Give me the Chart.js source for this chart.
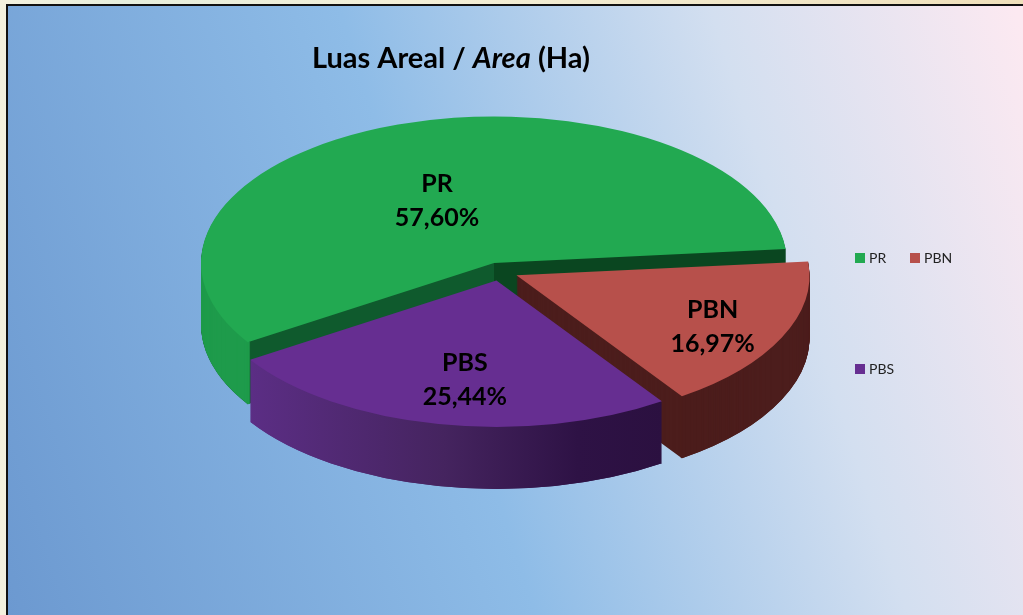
<!DOCTYPE html>
<html>
<head>
<meta charset="utf-8">
<title>Luas Areal</title>
<script src="https://cdn.jsdelivr.net/npm/chart.js@4"></script>
<style>
    html, body { margin: 0; height: 100%; overflow: hidden; }
    body { background: linear-gradient(90deg, #f4f1de 0%, #e6eedd 12%, #f3efd8 40%, #efe0bb 100%); }
    #panel {
        position: absolute; left: 6px; top: 4px; width: 1100px; height: 700px;
        border: 2px solid #111;
        background: linear-gradient(72deg, #6a97cf 0%, #8ebce7 42%, #d3dff0 70%, #fce9f1 93%);
    }
    #wrap { position: absolute; left: 0; top: 0; width: 1023px; height: 615px; }
</style>
</head>
<body>
<div id="panel"></div>
<div id="wrap"><canvas id="areaChart"></canvas></div>
<script>
const categories = ['PR', 'PBN', 'PBS'];
const shares = [57.60, 16.97, 25.44];

const topColors = ['#22A951', '#B7504B', '#662E91'];

// tilt and depth of the fake 3D pie
const tilt = 0.5;
const depth = 62;
const explode = 18.2;

// where the labels sit on each slice (degrees from east, fraction of radius)
const labelAngles = [245.3, 27.7, 99];
const labelRadii = [0.466, 0.756, 0.688];

// legend layout
const legendSpots = [[855, 253], [910, 253], [855, 364]];

function sliceCopy(arc, color, inner) {
    // copy of the arc element, moved out from the centre
    const mid = arc.startAngle + arc.circumference / 2;
    const copy = Object.create(arc);
    copy.x = arc.x + Math.cos(mid) * explode;
    copy.y = arc.y + Math.sin(mid) * explode;
    copy.innerRadius = inner === undefined ? 0 : inner;
    copy.options = {
        backgroundColor: color, borderColor: color, borderWidth: 0, borderAlign: 'center',
        borderRadius: 0, spacing: 0, offset: 0, circular: true,
        borderJoinStyle: 'round', borderDash: [], borderDashOffset: 0
    };
    return copy;
}

function hardStop(ctx, x, left, right) {
    const grad = ctx.createLinearGradient(0, 0, 1023, 0);
    const at = x / 1023;
    grad.addColorStop(0, left);
    grad.addColorStop(at, left);
    grad.addColorStop(at, right);
    grad.addColorStop(1, right);
    return grad;
}

function wallGradient(ctx, stops) {
    const grad = ctx.createLinearGradient(200, 0, 810, 0);
    stops.forEach(([at, c]) => grad.addColorStop(at, c));
    return grad;
}

function drawLayer(ctx, cy, d, slice) {
    ctx.save();
    ctx.translate(0, cy + d);
    ctx.scale(1, tilt);
    ctx.translate(0, -cy);
    slice.draw(ctx);
    ctx.restore();
}

const pie3d = {
    id: 'pie3d',
    beforeDatasetDraw(chart) {
        const ctx = chart.ctx;
        const arcs = chart.getDatasetMeta(0).data;
        const cy = arcs[0].y;

        const apexX = sliceCopy(arcs[0], '#000').x;
        const purpleWall = wallGradient(ctx, [[0.07, '#5C2E86'], [0.4, '#45245F'], [0.62, '#2E1245'], [0.76, '#2B1040']]);
        const cutFills = [
            hardStop(ctx, apexX, '#0F5A2D', '#0A4620'),
            '#4C1D1C',
            purpleWall
        ];
        const wallFills = ['#1E9B4B', '#4C1D1C', purpleWall];

        arcs.forEach((arc, i) => {
            const cut = sliceCopy(arc, cutFills[i]);
            const wall = sliceCopy(arc, wallFills[i], arc.outerRadius - 3);
            // only the front part of the rim is a visible wall
            if (arc.startAngle < Math.PI && arc.endAngle > Math.PI) {
                wall.endAngle = Math.PI + 0.05;
                wall.circumference = wall.endAngle - arc.startAngle;
            }
            for (let d = depth; d >= 1; d--) drawLayer(ctx, cy, d, cut);
            for (let d = depth; d >= 1; d--) drawLayer(ctx, cy, d, wall);
            drawLayer(ctx, cy, 0, sliceCopy(arc, topColors[i]));
        });
        return false;
    },
    afterDatasetsDraw(chart) {
        const ctx = chart.ctx;
        const arcs = chart.getDatasetMeta(0).data;
        const cy = arcs[0].y;

        // slice labels
        ctx.save();
        ctx.fillStyle = '#000';
        ctx.textAlign = 'center';
        ctx.textBaseline = 'middle';
        ctx.font = 'bold 25px Lato';
        arcs.forEach((arc, i) => {
            const s = sliceCopy(arc, '#000');
            const a = labelAngles[i] * Math.PI / 180;
            const r = labelRadii[i] * arc.outerRadius;
            const x = s.x + Math.cos(a) * r;
            const y = cy + (s.y - cy + Math.sin(a) * r) * tilt;
            ctx.fillText(categories[i], x, y - 17);
            ctx.fillText(shares[i].toFixed(2).replace('.', ',') + '%', x, y + 17);
        });

        // title, the middle word is italic
        ctx.textAlign = 'left';
        let x = 312;
        [['bold 29px Lato', 'Luas Areal / '], ['italic bold 29px Lato', 'Area'], ['bold 29px Lato', ' (Ha)']].forEach(([font, text]) => {
            ctx.font = font;
            ctx.fillText(text, x, 59);
            x += ctx.measureText(text).width;
        });

        // legend
        ctx.font = '14px Lato';
        categories.forEach((name, i) => {
            const [lx, ly] = legendSpots[i];
            ctx.fillStyle = topColors[i];
            ctx.fillRect(lx, ly, 10, 10);
            ctx.fillStyle = '#222';
            ctx.fillText(name, lx + 14, ly + 5);
        });
        ctx.restore();
    }
};

new Chart(document.getElementById('areaChart'), {
    type: 'pie',
    data: {
        labels: categories,
        datasets: [{
            data: shares,
            backgroundColor: topColors,
            borderWidth: 0
        }]
    },
    options: {
        responsive: true,
        maintainAspectRatio: false,
        animation: false,
        rotation: 237.2,
        radius: 293,
        layout: { padding: { right: 23, bottom: 72 } },
        plugins: {
            legend: { display: false },
            tooltip: { enabled: false }
        }
    },
    plugins: [pie3d]
});
</script>
</body>
</html>
